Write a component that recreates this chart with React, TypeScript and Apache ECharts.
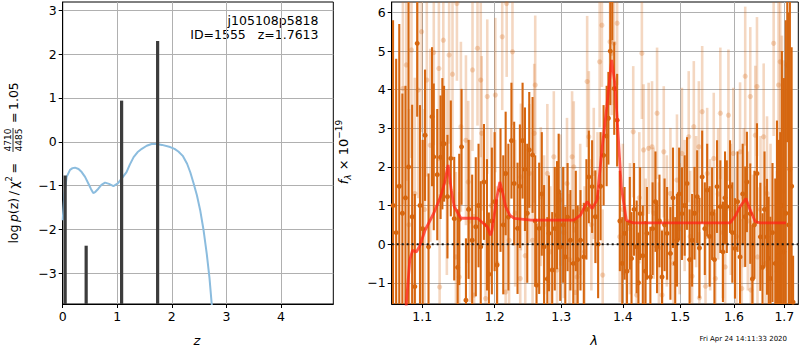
import React, { useEffect, useRef } from 'react';
import * as echarts from 'echarts';

// ---------- left panel: log p(z) ----------
const zGrid = [0, 0.03, 0.073, 0.134, 0.18, 0.226, 0.29, 0.348, 0.41, 0.47, 0.52, 0.56, 0.60, 0.653, 0.71, 0.776, 0.85, 0.93, 1.01, 1.08, 1.17, 1.23, 1.30, 1.37, 1.45, 1.54, 1.63, 1.72, 1.82, 1.97, 2.05, 2.12, 2.20, 2.28, 2.34, 2.40, 2.46, 2.52, 2.58, 2.64, 2.69, 2.73, 2.78];
const logPz = [-1.79, -1.2, -0.80, -0.64, -0.60, -0.59, -0.62, -0.69, -0.80, -0.95, -1.08, -1.17, -1.14, -1.07, -0.98, -0.93, -0.96, -1.01, -0.95, -0.84, -0.69, -0.52, -0.35, -0.24, -0.16, -0.09, -0.05, -0.05, -0.07, -0.12, -0.16, -0.22, -0.32, -0.50, -0.70, -0.95, -1.22, -1.56, -2.0, -2.55, -3.1, -3.68, -4.3];
const zPeaks = [0.045, 0.43, 1.08, 1.74];
const peakTops = [-0.77, -2.37, 0.94, 2.30];
const zTicks = [0, 1, 2, 3, 4];
const pTicks = [-3, -2, -1, 0, 1, 2, 3];

// ---------- right panel: spectrum [lambda, flux, err] ----------
const darkPoints: [number, number, number][] = [
  [1.062, 1.0, 4.8], [1.066, 0.3, 4.5], [1.070, 1.5, 4.2], [1.074, 0.8, 3.1], [1.078, 1.2, 2.9],
  [1.082, 2.0, 4.3], [1.0867, 0.71, 2.9], [1.0902, -1.1, 2.4], [1.0933, 5.2, 1.9], [1.097, 1.0, 2.6],
  [1.1005, 0.4, 2.3], [1.1037, 2.82, 1.7], [1.1083, -0.07, 1.9], [1.113, 3.3, 1.8], [1.1153, 2.26, 1.9],
  [1.120, 1.8, 1.7], [1.1245, 2.25, 1.6], [1.1269, 2.6, 1.7], [1.1292, 2.6, 1.5], [1.1338, 1.23, 1.6],
  [1.1384, 2.22, 1.5], [1.1431, 0.66, 1.6], [1.1478, -0.6, 1.5], [1.150, 0.64, 1.7], [1.1532, 2.52, 1.5],
  [1.1593, -1.45, 1.6], [1.163, 0.9, 1.8], [1.168, 0.1, 1.7], [1.1731, 0.45, 1.8], [1.177, 1.0, 1.6],
  [1.1801, -0.07, 1.7], [1.1847, 1.61, 1.5], [1.189, 0.5, 1.7], [1.1917, -0.78, 1.6], [1.196, 0.6, 1.9],
  [1.200, 1.1, 1.8], [1.2035, -0.54, 1.7], [1.2085, 1.4, 1.6], [1.2125, 0.5, 1.8], [1.216, 1.83, 1.6],
  [1.220, 0.7, 1.9], [1.2245, 2.68, 1.5], [1.2285, 1.57, 1.6], [1.2335, 0.41, 1.7], [1.237, 1.5, 1.6],
  [1.241, 2.68, 1.5], [1.2445, 1.94, 1.6], [1.248, 0.8, 1.8], [1.251, 2.44, 1.5], [1.256, 2.31, 1.5],
  [1.260, 0.6, 1.7], [1.262, -1.06, 1.6], [1.266, 0.41, 1.7], [1.270, 1.3, 1.6], [1.2735, -0.07, 1.6],
  [1.2785, -0.9, 1.6], [1.281, 0.28, 1.5], [1.286, -0.67, 1.5], [1.290, 0.4, 1.6], [1.2935, 0.75, 1.4],
  [1.296, 1.36, 1.5], [1.2985, -0.07, 1.4], [1.303, 0.5, 1.5], [1.3064, -0.33, 1.3], [1.310, 0.7, 1.4],
  [1.3144, 0.10, 1.3], [1.319, -0.5, 1.4], [1.323, 0.6, 1.3], [1.326, -0.4, 1.4], [1.3305, 0.10, 1.3],
  [1.3358, -0.33, 1.4], [1.340, 0.9, 1.3], [1.3439, 1.74, 1.2], [1.3492, 1.49, 1.2], [1.3545, 0.71, 1.2],
  [1.359, 0.0, 1.4], [1.363, 1.5, 1.4], [1.368, 2.3, 1.3], [1.373, 2.8, 1.3], [1.3759, 3.26, 1.2],
  [1.379, 5.0, 1.4], [1.3824, 6.28, 1.0], [1.3856, 4.03, 1.2], [1.3904, 3.21, 1.2], [1.395, 0.6, 1.3],
  [1.399, -0.5, 1.2], [1.4029, 0.28, 1.2], [1.407, -0.7, 1.3], [1.4118, 0.54, 1.2], [1.4147, -0.37, 1.2],
  [1.419, 0.9, 1.2], [1.4235, -0.07, 1.2], [1.4265, -1.0, 1.3], [1.4294, 0.79, 1.2], [1.434, -0.3, 1.3],
  [1.4385, -0.7, 1.3], [1.4412, 0.28, 1.2], [1.4471, -0.85, 1.3], [1.451, 0.4, 1.2], [1.456, 1.1, 1.3],
  [1.4588, -0.07, 1.2], [1.463, 0.6, 1.2], [1.4676, -0.85, 1.2], [1.472, 0.5, 1.2], [1.4765, 0.28, 1.2],
  [1.4824, -0.24, 1.2], [1.487, 1.2, 1.3], [1.491, -0.5, 1.2], [1.4941, 0.10, 1.2], [1.498, 1.3, 1.2],
  [1.5031, 0.79, 1.2], [1.508, 1.0, 1.3], [1.5123, 1.57, 1.2], [1.517, -0.4, 1.3], [1.5216, 0.10, 1.2],
  [1.526, 0.8, 1.2], [1.5309, 1.23, 1.2], [1.535, -0.1, 1.3], [1.5401, 1.74, 1.2], [1.545, 0.4, 1.2],
  [1.5494, 1.40, 1.2], [1.554, 0.2, 1.3], [1.5586, 0.79, 1.2], [1.563, -0.4, 1.3], [1.5679, 1.49, 1.2],
  [1.5741, 0.97, 1.2], [1.579, -0.2, 1.3], [1.583, 1.2, 1.2], [1.5864, 0.97, 1.2], [1.5926, 1.49, 1.2],
  [1.597, 0.3, 1.3], [1.602, -0.11, 1.3], [1.607, 1.1, 1.3], [1.6119, -0.33, 1.3], [1.617, 1.3, 1.3],
  [1.6219, 0.71, 1.3], [1.6252, 1.61, 1.3], [1.6318, 0.79, 1.3], [1.636, -0.9, 1.4], [1.640, 0.5, 1.4],
  [1.645, 1.83, 1.3], [1.6517, 0.19, 1.4], [1.656, -0.6, 1.4], [1.660, 0.9, 1.5], [1.665, 0.19, 1.5],
  [1.6683, -0.37, 1.6], [1.6717, -0.89, 1.6], [1.676, 0.3, 1.8], [1.6816, -0.5, 2.2], [1.685, 0.6, 2.6],
  [1.689, -0.3, 3.0], [1.6916, -0.5, 3.4], [1.695, 1.0, 4.0], [1.699, -0.2, 4.5], [1.703, 0.8, 5.0],
  [1.706, 4.64, 2.0], [1.709, 0.5, 5.5], [1.7114, 1.94, 5.0], [1.715, 1.5, 3.6], [1.718, -1.5, 1.2],
];

const lightPoints: [number, number, number][] = [
  [1.0747, 4.03, 3.0], [1.0791, 4.64, 3.0], [1.0825, 0.5, 3.0], [1.0858, 5.03, 2.8], [1.0902, 1.31, 3.0],
  [1.0947, 3.99, 2.8], [1.0991, 5.5, 2.6], [1.1030, 0.9, 2.6], [1.1060, 4.25, 2.5], [1.1106, 2.56, 2.5],
  [1.1153, 4.96, 2.4], [1.1222, 4.55, 2.4], [1.1232, -1.11, 2.4], [1.1282, 5.28, 2.3], [1.1330, 1.6, 2.4],
  [1.1361, 4.9, 2.3], [1.1407, 4.4, 2.2], [1.1454, -0.33, 2.2], [1.1468, 6.23, 2.0], [1.1500, -0.85, 2.2],
  [1.1523, 3.04, 2.2], [1.1593, 2.69, 2.2], [1.1625, 1.61, 2.1], [1.1650, 0.6, 2.1], [1.1685, 4.51, 2.1],
  [1.1708, -1.32, 2.1], [1.1755, 5.07, 2.0], [1.1801, 4.25, 2.0], [1.1815, 2.87, 2.0], [1.1870, -1.41, 2.0],
  [1.1894, 3.82, 2.0], [1.1950, 1.0, 2.0], [1.2010, 3.86, 2.0], [1.2035, -0.5, 2.0], [1.2110, 5.37, 1.9],
  [1.2160, -1.24, 1.9], [1.2175, 6.23, 1.9], [1.2210, 0.1, 1.9], [1.2260, 4.98, 1.9], [1.2300, 0.8, 1.9],
  [1.2375, -0.89, 1.9], [1.2385, 1.74, 1.9], [1.2450, -0.3, 1.8], [1.2510, 1.83, 1.8], [1.2560, 0.1, 1.8],
  [1.2585, 2.87, 1.8], [1.2600, 4.12, 1.8], [1.2685, 1.23, 1.8], [1.2735, 0.5, 1.8], [1.2785, 1.83, 1.8],
  [1.2830, -0.2, 1.7], [1.2885, 2.26, 1.7], [1.2935, -0.67, 1.7], [1.2985, 1.14, 1.7], [1.3040, 0.3, 1.7],
  [1.3091, 1.57, 1.7], [1.3130, -0.4, 1.7], [1.3171, 2.26, 1.7], [1.3198, 2.0, 1.7], [1.3225, -1.25, 1.7],
  [1.3251, -0.85, 1.7], [1.3300, 0.9, 1.7], [1.3370, -0.2, 1.7], [1.3412, 4.21, 1.7], [1.3439, 2.78, 1.7],
  [1.3480, 0.5, 1.7], [1.3519, 1.83, 1.7], [1.3580, 1.2, 1.7], [1.3615, 4.72, 1.7], [1.3652, 5.67, 1.6],
  [1.3665, -0.8, 1.7], [1.3786, 5.24, 1.6], [1.3813, 4.94, 1.6], [1.3850, 5.2, 1.6], [1.3904, 5.72, 1.6],
  [1.3947, 0.19, 1.7], [1.4000, 0.9, 1.7], [1.4059, -0.72, 1.7], [1.4120, 0.4, 1.7], [1.4176, 2.91, 1.7],
  [1.4235, -1.32, 1.8], [1.4280, 1.2, 1.7], [1.4324, 4.94, 1.7], [1.4353, 2.44, 1.7], [1.4390, 0.0, 1.7],
  [1.4441, 2.48, 1.7], [1.4500, 2.52, 1.7], [1.4530, 0.8, 1.7], [1.4588, 3.39, 1.7], [1.4620, -0.1, 1.7],
  [1.4676, -1.32, 1.7], [1.4706, 2.39, 1.7], [1.4760, 0.6, 1.7], [1.4824, 1.31, 1.7], [1.4880, -0.5, 1.7],
  [1.4941, 1.66, 1.7], [1.4990, 0.4, 1.7], [1.5031, 2.35, 1.7], [1.5080, 1.0, 1.7], [1.5154, 2.78, 1.7],
  [1.5180, 0.2, 1.7], [1.5216, -0.83, 1.7], [1.5247, 3.04, 1.7], [1.5290, 1.1, 1.7], [1.5340, 2.52, 1.7],
  [1.5350, -1.39, 1.7], [1.5401, 3.43, 1.7], [1.5463, -1.09, 1.7], [1.5494, 1.83, 1.7], [1.5550, 0.5, 1.7],
  [1.5617, 2.22, 1.7], [1.5648, -0.89, 1.7], [1.5700, 1.3, 1.7], [1.5741, 3.39, 1.7], [1.5790, 0.3, 1.7],
  [1.5833, -0.59, 1.7], [1.5895, 3.34, 1.7], [1.5940, 0.9, 1.7], [1.5988, 2.35, 1.7], [1.6050, 0.2, 1.8],
  [1.6119, 2.39, 1.8], [1.6152, -1.15, 1.8], [1.6190, 1.2, 1.8], [1.6219, 4.35, 1.8], [1.6270, 0.6, 1.8],
  [1.6318, 3.82, 1.8], [1.6330, -1.19, 1.8], [1.6370, 0.0, 1.8], [1.6417, 2.82, 1.8], [1.6450, 4.08, 1.8],
  [1.6460, -0.33, 1.8], [1.6520, 0.9, 1.9], [1.6583, 2.78, 1.9], [1.6620, -0.5, 2.0], [1.6650, 1.31, 2.0],
  [1.6720, 0.4, 2.2], [1.6783, 5.2, 2.4], [1.6850, -0.7, 2.6], [1.6882, 4.12, 2.8], [1.6916, 4.72, 3.0],
  [1.6950, 2.2, 3.2], [1.6983, 1.36, 3.4],
];

const modelLam = [1.0760, 1.0791, 1.0836, 1.0871, 1.0924, 1.0969, 1.1037, 1.1153, 1.1245, 1.1300, 1.1347, 1.1390, 1.1431, 1.1523, 1.1755, 1.1894, 1.1940, 1.1963, 1.2025, 1.2075, 1.2120, 1.2160, 1.2220, 1.2285, 1.2535, 1.3198, 1.3305, 1.3412, 1.3492, 1.3572, 1.3652, 1.3733, 1.3813, 1.3866, 1.3920, 1.3973, 1.4059, 1.4176, 1.5926, 1.6020, 1.6119, 1.6232, 1.6318, 1.6417, 1.6517, 1.7034];
const modelFlux = [-2.6, -1.54, -0.41, -0.16, -0.20, -0.03, 0.36, 0.80, 1.23, 1.60, 2.05, 1.40, 0.97, 0.67, 0.67, 0.45, 0.23, 0.36, 1.14, 1.61, 1.30, 0.97, 0.75, 0.67, 0.62, 0.62, 0.75, 1.10, 0.92, 1.14, 2.44, 3.56, 4.77, 4.16, 2.87, 1.49, 0.62, 0.55, 0.55, 0.71, 0.97, 1.18, 0.88, 0.58, 0.55, 0.55];
const lamTicks = [1.1, 1.2, 1.3, 1.4, 1.5, 1.6, 1.7];
const fTicks = [-1, 0, 1, 2, 3, 4, 5, 6];

const Z_MIN = 0, Z_MAX = 4.96, P_MIN = -3.7, P_MAX = 3.19;
const LAM_MIN = 1.0603, LAM_MAX = 1.7288, F_MIN = -1.55, F_MAX = 6.27;

const FONT = 'DejaVu Sans';
const DARK = '#d6660f';
const GRIDC = '#b0b0b0';
const TS = '\u2009';

const minus = (v: number, d = 0) => (v < 0 ? '\u2212' + Math.abs(v).toFixed(d) : v.toFixed(d));

function errSeries(points: [number, number, number][], opacity: number, lw: number, r: number, z: number) {
  return {
    type: 'custom',
    xAxisIndex: 1,
    yAxisIndex: 1,
    z,
    silent: true,
    data: points.map((p) => [Math.log(p[0]), p[1], p[2]]),
    encode: { x: 0, y: 1 },
    renderItem: (_params: any, api: any) => {
      const x = api.value(0);
      const f = api.value(1);
      const e = api.value(2);
      const lo = Math.max(f - e, F_MIN);
      const hi = Math.min(f + e, F_MAX);
      const children: any[] = [];
      if (hi > lo) {
        const a = api.coord([x, lo]);
        const b = api.coord([x, hi]);
        children.push({ type: 'line', shape: { x1: a[0], y1: a[1], x2: b[0], y2: b[1] }, style: { stroke: DARK, lineWidth: lw, opacity } });
      }
      if (f >= F_MIN && f <= F_MAX) {
        const c = api.coord([x, f]);
        children.push({ type: 'circle', shape: { cx: c[0], cy: c[1], r }, style: { fill: DARK, opacity } });
      }
      return { type: 'group', children };
    },
  };
}

export default function App() {
  const ref = useRef<HTMLDivElement>(null);
  useEffect(() => {
    if (!ref.current) return;
    const chart = echarts.init(ref.current, undefined, { renderer: 'svg' });
    const tickLabel = { color: '#000', fontFamily: FONT, fontSize: 12.5, margin: 6 };
    const splitLine = { show: true, lineStyle: { color: GRIDC, width: 1 } };
    const axisLine = { show: true, onZero: false, lineStyle: { color: '#000', width: 1 } };
    const axisTick = (vals: number[]) => ({ show: true, length: 4, lineStyle: { color: '#000' }, customValues: vals });

    const option: any = {
      animation: false,
      backgroundColor: '#fff',
      grid: [
        { left: 62.7, top: 2, width: 270.6, height: 302, show: true, borderColor: '#000', borderWidth: 1, outerBoundsMode: 'none', containLabel: false },
        { left: 391.7, top: 2, width: 406.6, height: 302, show: true, borderColor: '#000', borderWidth: 1, outerBoundsMode: 'none', containLabel: false },
      ],
      xAxis: [
        {
          type: 'value', gridIndex: 0, min: Z_MIN, max: Z_MAX,
          axisLine, splitLine, axisTick: axisTick(zTicks),
          axisLabel: { ...tickLabel, customValues: zTicks, formatter: (v: number) => minus(v) },
        },
        {
          type: 'value', gridIndex: 1, min: Math.log(LAM_MIN), max: Math.log(LAM_MAX),
          axisLine, splitLine, axisTick: axisTick(lamTicks.map(Math.log)),
          axisLabel: { ...tickLabel, customValues: lamTicks.map(Math.log), formatter: (v: number) => Math.exp(v).toFixed(1) },
        },
      ],
      yAxis: [
        {
          type: 'value', gridIndex: 0, min: P_MIN, max: P_MAX,
          axisLine, splitLine, axisTick: axisTick(pTicks),
          axisLabel: { ...tickLabel, customValues: pTicks, formatter: (v: number) => minus(Math.round(v)) },
        },
        {
          type: 'value', gridIndex: 1, min: F_MIN, max: F_MAX,
          axisLine, splitLine, axisTick: axisTick(fTicks),
          axisLabel: { ...tickLabel, customValues: fTicks, formatter: (v: number) => minus(Math.round(v)) },
        },
      ],
      series: [
        {
          type: 'line', xAxisIndex: 0, yAxisIndex: 0, z: 3,
          data: zGrid.map((z, i) => [z, logPz[i]]),
          showSymbol: false, smooth: false, clip: true,
          lineStyle: { color: '#8bbcde', width: 2 },
        },
        {
          type: 'custom', xAxisIndex: 0, yAxisIndex: 0, z: 4, silent: true,
          data: zPeaks.map((z, i) => [z, peakTops[i]]),
          encode: { x: 0, y: 1 },
          renderItem: (_p: any, api: any) => {
            const top = api.coord([api.value(0), api.value(1)]);
            const bot = api.coord([api.value(0), P_MIN]);
            return { type: 'rect', shape: { x: top[0] - 1.6, y: top[1], width: 3.2, height: bot[1] - top[1] }, style: { fill: '#3c3c3c' } };
          },
        },
        errSeries(lightPoints, 0.26, 2.6, 2.6, 2),
        errSeries(darkPoints, 1, 2.1, 2.5, 3),
        {
          type: 'line', xAxisIndex: 1, yAxisIndex: 1, z: 5,
          data: modelLam.map((l, i) => [Math.log(l), modelFlux[i]]),
          showSymbol: false, smooth: false, clip: true,
          lineStyle: { color: '#ff2418', width: 2.8, opacity: 0.75 },
        },
        {
          type: 'line', xAxisIndex: 1, yAxisIndex: 1, z: 6,
          data: [[Math.log(LAM_MIN), 0], [Math.log(LAM_MAX), 0]],
          showSymbol: false, silent: true,
          lineStyle: { color: '#111', width: 2, type: [2, 3] },
        },
      ],
      graphic: [
        { type: 'text', x: 318.5, y: 20, style: { text: 'j105108p5818', fill: '#000', font: `12.5px "${FONT}"`, align: 'right', verticalAlign: 'middle' } },
        { type: 'text', x: 318.5, y: 34.5, style: { text: 'ID=1555   z=1.7613', fill: '#000', font: `12.5px "${FONT}"`, align: 'right', verticalAlign: 'middle' } },
        { type: 'text', x: 197, y: 340, style: { text: 'z', fill: '#000', font: `italic 13px "${FONT}"`, align: 'center', verticalAlign: 'middle' } },
        { type: 'text', x: 594, y: 340, style: { text: 'λ', fill: '#000', font: `italic 13px "${FONT}"`, align: 'center', verticalAlign: 'middle' } },
        { type: 'text', x: 787, y: 339, style: { text: 'Fri Apr 24 14:11:33 2020', fill: '#000', font: `7px "${FONT}"`, align: 'right', verticalAlign: 'middle' } },
        {
          type: 'text', x: 343, y: 152, rotation: Math.PI / 2,
          style: {
            text: '{i|f}{s|λ}{n| × 10}{u|\u221219}',
            align: 'center', verticalAlign: 'middle', fill: '#000',
            rich: {
              i: { fontFamily: FONT, fontSize: 13, fontStyle: 'italic', lineHeight: 18, verticalAlign: 'middle' },
              s: { fontFamily: FONT, fontSize: 9, fontStyle: 'italic', lineHeight: 18, verticalAlign: 'bottom' },
              n: { fontFamily: FONT, fontSize: 13, lineHeight: 18, verticalAlign: 'middle' },
              u: { fontFamily: FONT, fontSize: 9, lineHeight: 18, verticalAlign: 'top' },
            },
          },
        },
        {
          type: 'group', x: 13, y: 154, rotation: Math.PI / 2,
          children: [
            {
              type: 'text', x: -9, y: 0,
              style: {
                text: `log${TS}{i|p}(z)${TS}/${TS}χ{u|2}${TS}=`,
                align: 'right', verticalAlign: 'middle', fill: '#000',
                font: `12.5px "${FONT}"`,
                rich: {
                  i: { fontFamily: FONT, fontSize: 12.5, fontStyle: 'italic', lineHeight: 18, verticalAlign: 'middle' },
                  u: { fontFamily: FONT, fontSize: 8.5, lineHeight: 18, verticalAlign: 'top' },
                },
              },
            },
            { type: 'text', x: 14, y: -5.5, style: { text: '4710', fill: '#000', font: `9px "${FONT}"`, align: 'center', verticalAlign: 'middle' } },
            { type: 'line', shape: { x1: 2, y1: 0, x2: 26, y2: 0 }, style: { stroke: '#000', lineWidth: 0.8 } },
            { type: 'text', x: 14, y: 5.5, style: { text: '4485', fill: '#000', font: `9px "${FONT}"`, align: 'center', verticalAlign: 'middle' } },
            { type: 'text', x: 31, y: 0, style: { text: `=${TS}1.05`, fill: '#000', font: `12.5px "${FONT}"`, align: 'left', verticalAlign: 'middle' } },
          ],
        },
      ],
    };
    chart.setOption(option);
    return () => chart.dispose();
  }, []);
  return <div ref={ref} style={{ position: 'fixed', left: 0, top: 0, width: 800, height: 350 }} />;
}
